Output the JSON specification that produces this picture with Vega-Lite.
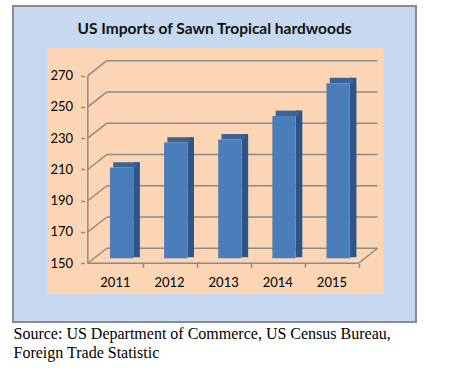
{
  "$schema": "https://vega.github.io/schema/vega-lite/v6.json",
  "width": 403,
  "height": 316,
  "padding": {"left": 13, "top": 6, "right": 5, "bottom": 2},
  "autosize": {"type": "pad"},
  "background": "white",
  "title": {
    "text": "US Imports of Sawn  Tropical hardwoods",
    "font": "Lato",
    "fontSize": 15.5,
    "fontWeight": "bold",
    "color": "#111111",
    "anchor": "middle",
    "baseline": "alphabetic",
    "offset": -43
  },
  "config": {
    "view": {"fill": "#C6D9F1", "stroke": "#8C8C8C", "strokeWidth": 2}
  },
  "datasets": {
    "imports": [
      {"year": 2011, "value": 208},
      {"year": 2012, "value": 224},
      {"year": 2013, "value": 226},
      {"year": 2014, "value": 241},
      {"year": 2015, "value": 262}
    ],
    "grid": [
      {"v": 150}, {"v": 170}, {"v": 190}, {"v": 210}, {"v": 230}, {"v": 250}, {"v": 270}
    ]
  },
  "layer": [
    {
      "data": {"values": [{}]},
      "mark": {"type": "rect", "fill": "#FCD5B4"},
      "encoding": {
        "x": {"datum": 2009.75, "type": "quantitative", "scale": {"type": "linear", "domain": [2009.21, 2016.47], "nice": false, "zero": false}},
        "x2": {"datum": 2015.96},
        "y": {"datum": 287.75, "type": "quantitative", "scale": {"type": "linear", "domain": [112.4, 314.6], "nice": false, "zero": false}},
        "y2": {"datum": 130.36}
      }
    },
    {
      "data": {"name": "grid"},
      "mark": {"type": "rule", "color": "#8A8A8A", "strokeWidth": 1.5, "xOffset": 19, "x2Offset": 19, "yOffset": -15},
      "encoding": {
        "x": {"datum": 2010.5, "type": "quantitative", "scale": {"type": "linear", "domain": [2009.21, 2016.47], "nice": false, "zero": false}},
        "x2": {"datum": 2015.5},
        "y": {"field": "v", "type": "quantitative", "scale": {"type": "linear", "domain": [112.4, 314.6], "nice": false, "zero": false}}
      }
    },
    {
      "data": {"name": "grid"},
      "mark": {"type": "rule", "color": "#8A8A8A", "strokeWidth": 1.5, "x2Offset": 19, "y2Offset": -15},
      "encoding": {
        "x": {"datum": 2010.5, "type": "quantitative", "scale": {"type": "linear", "domain": [2009.21, 2016.47], "nice": false, "zero": false}},
        "x2": {"datum": 2010.5},
        "y": {"field": "v", "type": "quantitative", "scale": {"type": "linear", "domain": [112.4, 314.6], "nice": false, "zero": false}},
        "y2": {"field": "v"}
      }
    },
    {
      "data": {"values": [{}]},
      "mark": {"type": "rule", "color": "#8A8A8A", "strokeWidth": 1.5},
      "encoding": {
        "x": {"datum": 2010.5, "type": "quantitative", "scale": {"type": "linear", "domain": [2009.21, 2016.47], "nice": false, "zero": false}},
        "y": {"datum": 150, "type": "quantitative", "scale": {"type": "linear", "domain": [112.4, 314.6], "nice": false, "zero": false}},
        "y2": {"datum": 270}
      }
    },
    {
      "data": {"values": [{}]},
      "mark": {"type": "rule", "color": "#8A8A8A", "strokeWidth": 1.5},
      "encoding": {
        "x": {"datum": 2010.5, "type": "quantitative", "scale": {"type": "linear", "domain": [2009.21, 2016.47], "nice": false, "zero": false}},
        "x2": {"datum": 2015.5},
        "y": {"datum": 150, "type": "quantitative", "scale": {"type": "linear", "domain": [112.4, 314.6], "nice": false, "zero": false}}
      }
    },
    {
      "data": {"values": [{}]},
      "mark": {"type": "rule", "color": "#8A8A8A", "strokeWidth": 1.5, "x2Offset": 19, "y2Offset": -15},
      "encoding": {
        "x": {"datum": 2015.5, "type": "quantitative", "scale": {"type": "linear", "domain": [2009.21, 2016.47], "nice": false, "zero": false}},
        "x2": {"datum": 2015.5},
        "y": {"datum": 150, "type": "quantitative", "scale": {"type": "linear", "domain": [112.4, 314.6], "nice": false, "zero": false}},
        "y2": {"datum": 150}
      }
    },
    {
      "data": {"name": "imports"},
      "mark": {"type": "bar", "color": "#2F5587", "width": 6.6, "xOffset": 21.7, "yOffset": -10.4, "y2Offset": -6},
      "encoding": {
        "x": {"field": "year", "type": "quantitative", "scale": {"type": "linear", "domain": [2009.21, 2016.47], "nice": false, "zero": false}},
        "y": {"field": "value", "type": "quantitative", "scale": {"type": "linear", "domain": [112.4, 314.6], "nice": false, "zero": false}},
        "y2": {"datum": 150}
      }
    },
    {
      "data": {"name": "imports"},
      "mark": {"type": "bar", "color": "#3A6499", "width": 23.3, "xOffset": 10, "yOffset": -10.4, "y2Offset": -5},
      "encoding": {
        "x": {"field": "year", "type": "quantitative", "scale": {"type": "linear", "domain": [2009.21, 2016.47], "nice": false, "zero": false}},
        "y": {"field": "value", "type": "quantitative", "scale": {"type": "linear", "domain": [112.4, 314.6], "nice": false, "zero": false}},
        "y2": {"field": "value"}
      }
    },
    {
      "data": {"name": "imports"},
      "mark": {"type": "bar", "color": "#4A7EBB", "width": 23.3, "xOffset": 6.7, "yOffset": -5, "y2Offset": -5},
      "encoding": {
        "x": {"field": "year", "type": "quantitative",
          "scale": {"type": "linear", "domain": [2009.21, 2016.47], "nice": false, "zero": false},
          "axis": {
            "orient": "bottom", "offset": -58.7, "values": [2011, 2012, 2013, 2014, 2015], "format": "d",
            "domain": false, "grid": false, "tickOffset": 27.75, "labelOffset": -27.75,
            "tickSize": 4, "tickColor": "#8A8A8A", "tickWidth": 1.5, "zindex": 1,
            "labelFont": "Lato", "labelFontSize": 13, "labelColor": "#000000", "labelPadding": 9,
            "labelFlush": false, "labelOverlap": false,
            "title": ["Source: US Department of Commerce, US Census Bureau,", "Foreign Trade Statistic"],
            "titleFont": "Liberation Serif", "titleFontSize": 16, "titleFontWeight": "normal",
            "titleColor": "#000000", "titleAnchor": "start", "titleAlign": "left",
            "titleBaseline": "alphabetic", "titleX": 0, "titleY": 75.5, "titleLineHeight": 19
          }
        },
        "y": {"field": "value", "type": "quantitative",
          "scale": {"type": "linear", "domain": [112.4, 314.6], "nice": false, "zero": false},
          "axis": {
            "orient": "left", "offset": -71.6, "values": [150, 170, 190, 210, 230, 250, 270],
            "domain": false, "grid": false, "tickSize": 4, "tickColor": "#8A8A8A", "tickWidth": 1.5, "zindex": 1,
            "labelFont": "Lato", "labelFontSize": 13, "labelColor": "#000000", "labelPadding": 8,
            "title": null
          }
        },
        "y2": {"datum": 150}
      }
    }
  ]
}
